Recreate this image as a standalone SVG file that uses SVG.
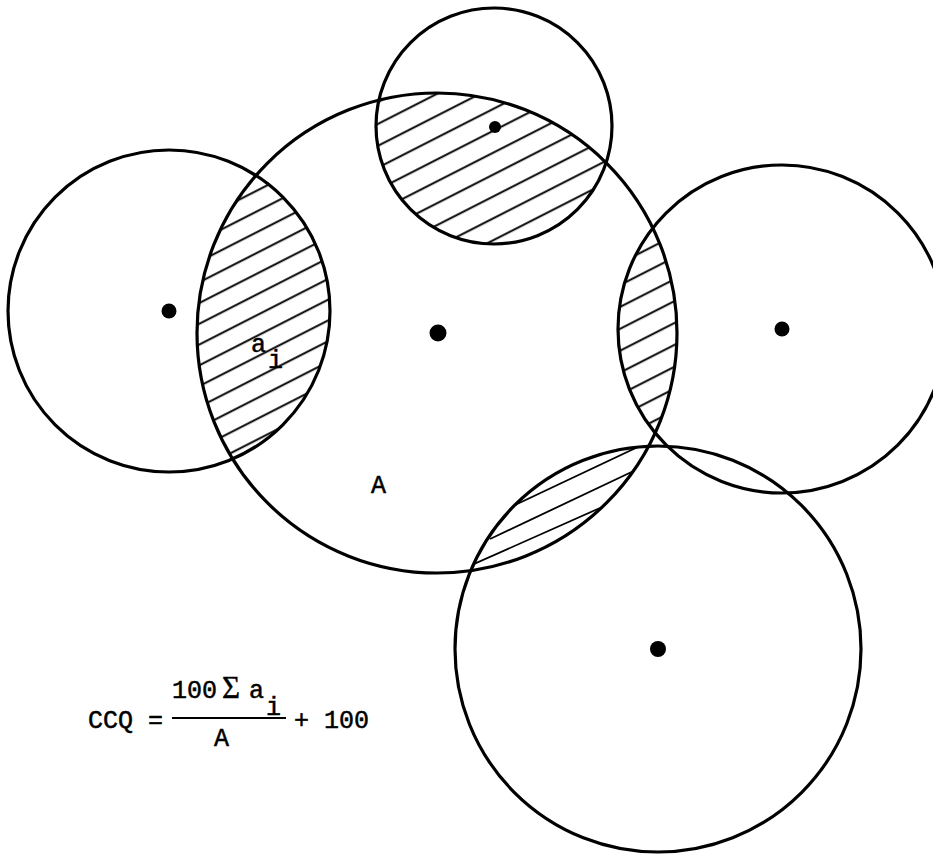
<svg xmlns="http://www.w3.org/2000/svg" width="933" height="854" viewBox="0 0 933 854">
<style>
.c{fill:none;stroke:#000;stroke-width:3.2}
.dot{fill:#000}
.h{stroke:#000;stroke-width:1.8}
.t{font-family:"Liberation Mono","Courier New",monospace;font-size:25px;fill:#000;stroke:#000;stroke-width:0.5}
.s{font-family:"Liberation Serif","Times New Roman",serif;font-size:31px;fill:#000;stroke:#000;stroke-width:0.4}
</style>
<defs>
<clipPath id="cM"><circle cx="437" cy="333" r="240"/></clipPath>
<clipPath id="cL"><circle cx="169" cy="311" r="161"/></clipPath>
<clipPath id="cT"><circle cx="494" cy="126" r="118"/></clipPath>
<clipPath id="cR"><circle cx="782" cy="329" r="164"/></clipPath>
<clipPath id="cB"><circle cx="658" cy="649" r="203"/></clipPath>
<pattern id="hatch" patternUnits="userSpaceOnUse" width="40" height="18.5" patternTransform="rotate(-27)">
<line x1="0" y1="9" x2="40" y2="9" stroke="#000" stroke-width="1.8"/>
</pattern>
<pattern id="hatch2" patternUnits="userSpaceOnUse" width="40" height="19.5" patternTransform="rotate(-27)">
<line x1="0" y1="9" x2="40" y2="9" stroke="#000" stroke-width="1.8"/>
</pattern>
</defs>
<rect width="933" height="854" fill="#fff"/>
<g id="hatching">
<g clip-path="url(#cM)"><g clip-path="url(#cL)"><rect x="150" y="150" width="220" height="320" fill="url(#hatch)"/></g></g>
<g clip-path="url(#cM)"><g clip-path="url(#cT)"><rect x="360" y="60" width="270" height="200" fill="url(#hatch2)"/></g></g>
<g clip-path="url(#cM)"><g clip-path="url(#cR)"><rect x="600" y="200" width="100" height="250" fill="url(#hatch2)"/></g></g>
<g clip-path="url(#cM)"><g clip-path="url(#cB)">
<line class="h" x1="515" y1="505" x2="640" y2="446"/>
<line class="h" x1="490" y1="539" x2="640" y2="468"/>
<line class="h" x1="465" y1="568" x2="600" y2="508"/>
</g></g>
</g>
<g id="circle-main"><circle class="c" cx="437" cy="333" r="240" stroke-width="3.6"/><circle class="dot" cx="438" cy="333" r="8.5"/></g>
<g id="circle-left"><circle class="c" cx="169" cy="311" r="161"/><circle class="dot" cx="169" cy="311" r="7.5"/></g>
<g id="circle-top"><circle class="c" cx="494" cy="126" r="118"/><circle class="dot" cx="495" cy="127" r="6"/></g>
<g id="circle-right"><circle class="c" cx="782" cy="329" r="164"/><circle class="dot" cx="782" cy="329" r="7.5"/></g>
<g id="circle-bottom"><circle class="c" cx="658" cy="649" r="203"/><circle class="dot" cx="658" cy="649" r="8"/></g>
<g id="labels">
<text class="t" x="251" y="352">a</text>
<text class="t" x="268" y="368">i</text>
<text class="t" x="371" y="493">A</text>
</g>
<g id="formula">
<text class="t" x="88" y="728">CCQ =</text>
<text class="t" x="172" y="698">100</text>
<text class="s" x="222" y="698">Σ</text>
<text class="t" x="249" y="698">a</text>
<text class="t" x="266" y="715">i</text>
<line x1="172" y1="718" x2="286" y2="718" stroke="#000" stroke-width="1.8"/>
<text class="t" x="214" y="746">A</text>
<text class="t" x="294" y="728">+ 100</text>
</g>
</svg>
